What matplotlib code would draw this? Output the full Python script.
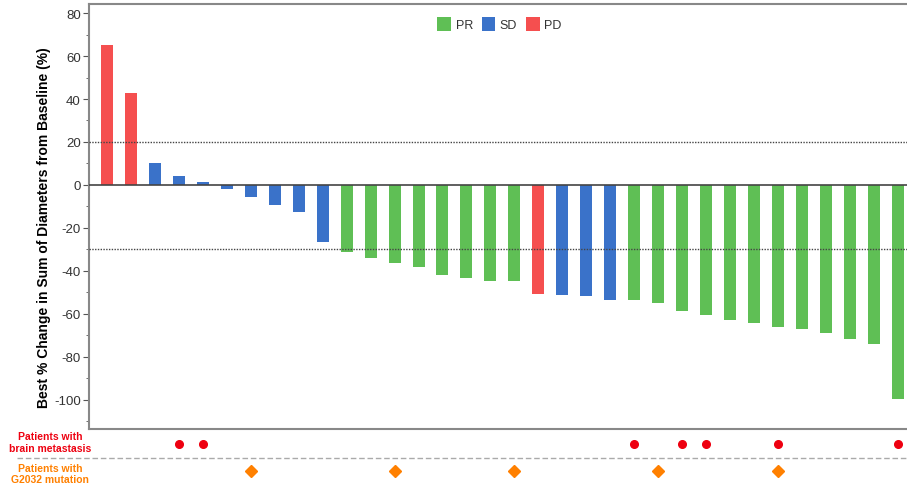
import matplotlib.pyplot as plt
import matplotlib.transforms as mtransforms
from matplotlib.lines import Line2D
from matplotlib.patches import Patch
from matplotlib.ticker import MultipleLocator

plt.rcParams['font.family'] = ['Liberation Sans', 'DejaVu Sans']
plt.rcParams['axes.unicode_minus'] = False

# best % change per patient, left to right
changes = [65, 43, 10, 4, 1.2, -2, -5.7, -9.3, -12.6, -26.7,
           -31, -33.8, -36.3, -38, -41.7, -43.3, -44.5, -44.8,
           -50.7, -51.3, -51.8, -53.3,
           -53.5, -54.9, -58.6, -60.5, -62.8, -64.2, -65.9, -67,
           -69, -71.8, -74.1, -99.7]
response = ['PD', 'PD'] + ['SD'] * 8 + ['PR'] * 8 + ['PD'] + ['SD'] * 3 + ['PR'] * 12
brain_mets = [3, 4, 22, 24, 25, 28, 33]     # patient index
g2032 = [6, 12, 17, 23, 28]                 # patient index

resp_colors = {'PR': '#5fbf55', 'SD': '#3a72c9', 'PD': '#f54f4f'}

fig = plt.figure(figsize=(9.07, 4.89), dpi=100)
ax = fig.add_axes([0.0981, 0.1207, 0.905, 0.8691])

x = list(range(len(changes)))
ax.bar(x, changes, width=0.5, color=[resp_colors[r] for r in response], zorder=2)

ax.axhline(0, color='#444444', lw=1.2, zorder=3)
ax.axhline(20, color='#444444', lw=1.0, ls=(0, (1, 1)), zorder=3)
ax.axhline(-30, color='#444444', lw=1.0, ls=(0, (1, 1)), zorder=3)

ax.set_xlim(-0.75, 33.5)
ax.set_ylim(-113.5, 84.2)
ax.set_xticks([])
ax.yaxis.set_major_locator(MultipleLocator(20))
ax.yaxis.set_minor_locator(MultipleLocator(10))
ax.tick_params(axis='y', which='major', length=4, width=0.8, color='#555555',
               labelsize=9.5, labelcolor='#333333', pad=2)
ax.tick_params(axis='y', which='minor', length=2, width=0.6, color='#555555')
for s in ['left', 'top', 'bottom']:
    ax.spines[s].set_color('#888888')
    ax.spines[s].set_linewidth(1.5)
ax.spines['right'].set_visible(False)

ax.set_ylabel('Best % Change in Sum of Diameters from Baseline (%)', fontsize=10,
              fontweight='bold')
ax.yaxis.set_label_coords(-0.046, 0.477)

handles = [Patch(facecolor=resp_colors[k], label=k) for k in ['PR', 'SD', 'PD']]
leg = ax.legend(handles=handles, loc='upper center', bbox_to_anchor=(0.5, 0.995), ncol=3,
                frameon=False, fontsize=9, handlelength=1.1, handleheight=1.3,
                handletextpad=0.35, columnspacing=0.7)
for t in leg.get_texts():
    t.set_color('#333333')

# annotation rows under the plot
trans = mtransforms.blended_transform_factory(ax.transData, fig.transFigure)
ax.plot(brain_mets, [0.091] * len(brain_mets), 'o', color='#ee0010', ms=5.5,
        transform=trans, clip_on=False)
ax.plot(g2032, [0.035] * len(g2032), 'D', color='#ff8000', ms=6,
        transform=trans, clip_on=False)

fig.add_artist(Line2D([0.019, 1.0], [0.062, 0.062], transform=fig.transFigure,
                      color='#aaaaaa', lw=1.0, ls=(0, (4, 2))))
fig.text(0.055, 0.094, 'Patients with\nbrain metastasis', color='#ee0010',
         fontsize=7.5, fontweight='bold', ha='center', va='center', linespacing=1.15)
fig.text(0.055, 0.030, 'Patients with\nG2032 mutation', color='#ff8000',
         fontsize=7.5, fontweight='bold', ha='center', va='center', linespacing=1.15)

fig.savefig('out.png', dpi=100)
